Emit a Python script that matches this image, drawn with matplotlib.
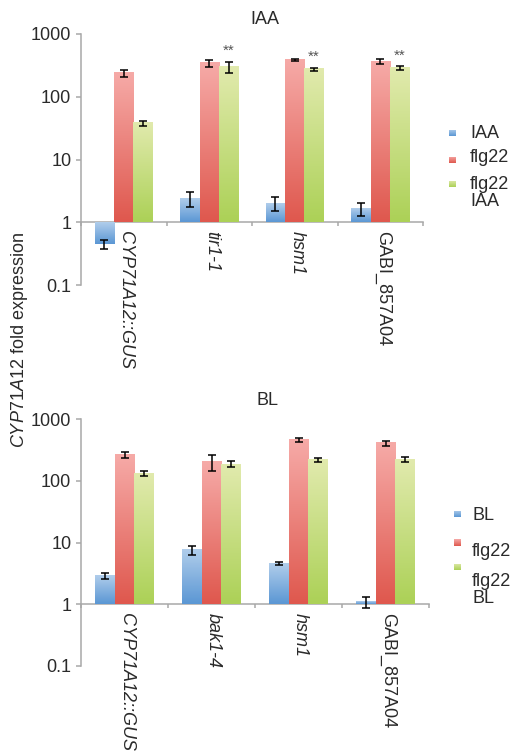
import matplotlib
matplotlib.use("Agg")
import matplotlib.pyplot as plt
import numpy as np
from matplotlib.colors import LinearSegmentedColormap
from matplotlib.ticker import FixedLocator, NullLocator, FuncFormatter

plt.rcParams["font.family"] = ["Liberation Sans", "DejaVu Sans"]
plt.rcParams["mathtext.fontset"] = "custom"
plt.rcParams["mathtext.rm"] = "Liberation Sans"
plt.rcParams["mathtext.it"] = "Liberation Sans:italic"

W, H = 514, 751

# ---------------------------------------------------------------------------
# Data
# ---------------------------------------------------------------------------

iaa_labels = ["CYP71A12::GUS", "tir1-1", "hsm1", "GABI_857A04"]
iaa_italic = [True, True, True, False]
iaa_treat = [0.45, 2.4, 2.0, 1.65]
iaa_treat_err = [0.08, 0.65, 0.5, 0.37]
iaa_flg22 = [240, 345, 383, 365]
iaa_flg22_err = [30, 42, 18, 28]
iaa_both = [38, 297, 275, 286]
iaa_both_err = [3.5, 60, 15, 18]
iaa_stars = ["", "**", "**", "**"]

bl_labels = ["CYP71A12::GUS", "bak1-4", "hsm1", "GABI_857A04"]
bl_italic = [True, True, True, False]
bl_treat = [2.9, 7.5, 4.6, 1.1]
bl_treat_err = [0.3, 1.3, 0.3, 0.22]
bl_flg22 = [262, 205, 455, 405]
bl_flg22_err = [32, 60, 30, 38]
bl_both = [131, 185, 215, 222]
bl_both_err = [12, 20, 15, 20]

y_ticks = [0.1, 1, 10, 100, 1000]

# gradient colours: (bottom, top)
_GRAD = {
    "blue":  ("#5b97d4", "#b0cdeb"),
    "red":   ("#df584e", "#f6aaa7"),
    "green": ("#acd157", "#e1eaad"),
}
_TXT = "#2a2a2a"
_AX = "#a8a8a8"
_BW = 0.226
_FS = 13


def _cmap(name):
    lo, hi = _GRAD[name]
    return LinearSegmentedColormap.from_list(name, [lo, hi])


_GRAD_IMG = np.linspace(0, 1, 64).reshape(-1, 1)


def fx(px):
    return px / W


def fy(py):
    return 1 - py / H


def _panel(rect, labels, italic, series, stars, title, title_xy, legend):
    ax = plt.gcf().add_axes(rect)
    ax.set_yscale("log")
    n = len(labels)
    x = np.arange(n)

    ax.set_xlim(-0.5, n - 0.5)
    ax.set_ylim(0.1, 1000)
    ax.set_autoscale_on(False)

    bars = []
    for k, (vals, errs, cname) in enumerate(series):
        xs = x + (k - 1) * _BW
        v = np.asarray(vals, dtype=float)
        b = ax.bar(xs, v - 1, bottom=1, width=_BW, color=_GRAD[cname][0],
                   linewidth=0, zorder=2)
        ax.errorbar(xs, v, yerr=errs, fmt="none", ecolor="black",
                    elinewidth=1.1, capsize=2.6, capthick=1.1, zorder=4)
        bars.append((b, cname))

    # gradient fill, light at top of each bar
    to_axes = ax.transData + ax.transAxes.inverted()
    for b, cname in bars:
        for p in b.patches:
            x0, y0 = p.get_x(), p.get_y()
            x1, y1 = x0 + p.get_width(), y0 + p.get_height()
            (ax0, ay0), (ax1, ay1) = to_axes.transform([(x0, y0), (x1, y1)])
            lo, hi = min(ay0, ay1), max(ay0, ay1)
            ax.imshow(_GRAD_IMG, cmap=_cmap(cname), aspect="auto",
                      origin="lower", extent=(ax0, ax1, lo, hi),
                      transform=ax.transAxes, zorder=3, interpolation="bilinear")

    # significance marks above the last series
    last_vals, last_errs, _ = series[-1]
    for i, s in enumerate(stars):
        if s:
            ax.annotate(s, xy=(x[i] + _BW, last_vals[i] + last_errs[i]),
                        xytext=(0, 3), textcoords="offset points",
                        ha="center", va="bottom", fontsize=11, color="#555555")

    # category labels under the baseline
    for i, lab in enumerate(labels):
        ax.annotate(lab, xy=(x[i], 1), xytext=(1.5, -6),
                    textcoords="offset points", rotation=-90,
                    ha="center", va="top", fontsize=_FS, color=_TXT,
                    style="italic" if italic[i] else "normal")

    # axes styling
    for side in ("top", "right"):
        ax.spines[side].set_visible(False)
    ax.spines["bottom"].set_position(("data", 1))
    for side in ("left", "bottom"):
        ax.spines[side].set_color(_AX)
        ax.spines[side].set_linewidth(1.1)
    ax.set_xticks(np.arange(n + 1) - 0.5)
    ax.set_xticklabels([])
    ax.tick_params(axis="x", direction="out", length=3, width=1.1, color=_AX)
    ax.yaxis.set_major_locator(FixedLocator(y_ticks))
    ax.yaxis.set_minor_locator(NullLocator())
    ax.yaxis.set_major_formatter(FuncFormatter(lambda v, _: f"{v:g}"))
    ax.tick_params(axis="y", direction="out", length=3.5, width=1.1, color=_AX,
                   labelsize=_FS, labelcolor=_TXT, pad=3.5)
    ax.patch.set_visible(False)

    fig = plt.gcf()
    fig.text(fx(title_xy[0]), fy(title_xy[1]), title, ha="center", va="center",
             fontsize=_FS, color=_TXT)

    # hand-placed legend (squares and texts are not aligned in the original)
    for (sq_x, sq_y, cname), (tx, ty, txt) in legend:
        lax = fig.add_axes([fx(sq_x - 3.5), fy(sq_y + 3.5), 7 / W, 7 / H])
        lax.imshow(_GRAD_IMG, cmap=_cmap(cname), aspect="auto", origin="lower")
        lax.axis("off")
        fig.text(fx(tx), fy(ty), txt, ha="left", va="center", fontsize=_FS,
                 color=_TXT, linespacing=1.0)
    return ax


fig = plt.figure(figsize=(W / 100, H / 100), dpi=100)

_panel([fx(81), fy(285), (423 - 81) / W, (285 - 34) / H],
       iaa_labels, iaa_italic,
       [(iaa_treat, iaa_treat_err, "blue"),
        (iaa_flg22, iaa_flg22_err, "red"),
        (iaa_both, iaa_both_err, "green")],
       iaa_stars, "IAA", (265, 19),
       [((452, 133, "blue"), (470, 134, "IAA")),
        ((452, 160, "red"), (470, 157, "flg22")),
        ((452, 184, "green"), (470, 193, "flg22\nIAA"))])

_panel([fx(81), fy(666), (429 - 81) / W, (666 - 419) / H],
       bl_labels, bl_italic,
       [(bl_treat, bl_treat_err, "blue"),
        (bl_flg22, bl_flg22_err, "red"),
        (bl_both, bl_both_err, "green")],
       ["", "", "", ""], "BL", (268, 400),
       [((457, 514, "blue"), (472, 515, "BL")),
        ((457, 542, "red"), (472, 551, "flg22")),
        ((457, 567, "green"), (472, 590, "flg22\nBL"))])

fig.text(fx(20), fy(340), r"$\mathit{CYP71A12}$ fold expression", rotation=90,
         ha="center", va="center", fontsize=_FS, color=_TXT)

fig.savefig("out.png", dpi=100)
